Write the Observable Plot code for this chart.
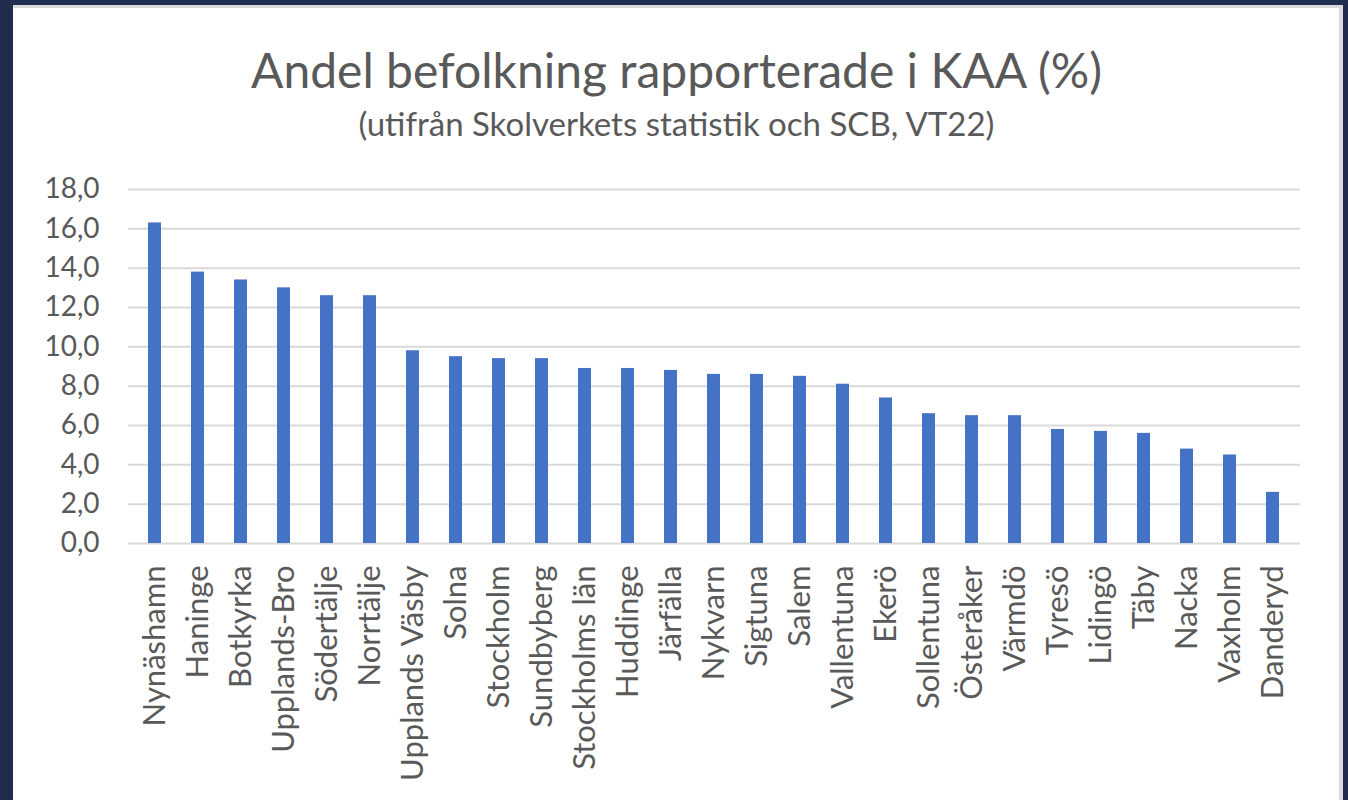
<!DOCTYPE html>
<html><head><meta charset="utf-8">
<script src="https://cdn.jsdelivr.net/npm/d3@7"></script>
<script src="https://cdn.jsdelivr.net/npm/@observablehq/plot@0.6"></script>
<style>
html,body{margin:0;padding:0;}
body{width:1348px;height:800px;background:#212d4e;position:relative;overflow:hidden;font-family:Lato,"Open Sans",sans-serif;}
#panel{position:absolute;left:13px;top:5px;width:1330px;height:795px;background:#fff;border-top:3px solid #d9d9d9;border-right:4px solid #d9d9d9;box-sizing:border-box;}
#title{position:absolute;left:0;top:43px;width:1353px;text-align:center;font-size:48px;line-height:54px;color:#595959;white-space:nowrap;}
#subtitle{position:absolute;left:0;top:104px;width:1353px;text-align:center;font-size:33px;line-height:38px;color:#595959;white-space:nowrap;}
#chart{position:absolute;left:0;top:160px;}
</style>
</head><body>
<div id="panel"></div>
<div id="title">Andel befolkning rapporterade i KAA (%)</div>
<div id="subtitle">(utifrån Skolverkets statistik och SCB, VT22)</div>
<div id="chart"></div>
<script>
const municipalities = ["Nynäshamn","Haninge","Botkyrka","Upplands-Bro","Södertälje","Norrtälje","Upplands Väsby","Solna","Stockholm","Sundbyberg","Stockholms län","Huddinge","Järfälla","Nykvarn","Sigtuna","Salem","Vallentuna","Ekerö","Sollentuna","Österåker","Värmdö","Tyresö","Lidingö","Täby","Nacka","Vaxholm","Danderyd"];
const shares = [16.3,13.8,13.4,13.0,12.6,12.6,9.8,9.5,9.4,9.4,8.9,8.9,8.8,8.6,8.6,8.5,8.1,7.4,6.6,6.5,6.5,5.8,5.7,5.6,4.8,4.5,2.6];
const yTicks = [0,2,4,6,8,10,12,14,16,18];

const data = municipalities.map((m,i)=>({m, v: shares[i]}));

const chart = Plot.plot({
  width: 1348,
  height: 640,
  marginLeft: 128,
  marginRight: 48,
  marginTop: 29,
  marginBottom: 257,
  style: {fontFamily: "Lato, 'Open Sans', sans-serif", color: "#595959", background: "transparent"},
  x: {domain: municipalities, paddingInner: 0.69, paddingOuter: 0.345, label: null},
  y: {domain: [0,18], label: null},
  marks: [
    Plot.ruleY(yTicks, {stroke: "#d9d9d9", strokeWidth: 2}),
    Plot.barY(data, {x: "m", y: "v", fill: "#4472c4"}),
    Plot.axisY(yTicks, {tickSize: 0, tickPadding: 29, tickFormat: d => d.toFixed(1).replace(".", ","), fontSize: 28, label: null, fill: "#595959"}),
    Plot.axisX({tickSize: 0, tickPadding: 22, tickRotate: -90, fontSize: 31, label: null, fill: "#595959"})
  ]
});
document.getElementById("chart").appendChild(chart);
</script>
</body></html>
